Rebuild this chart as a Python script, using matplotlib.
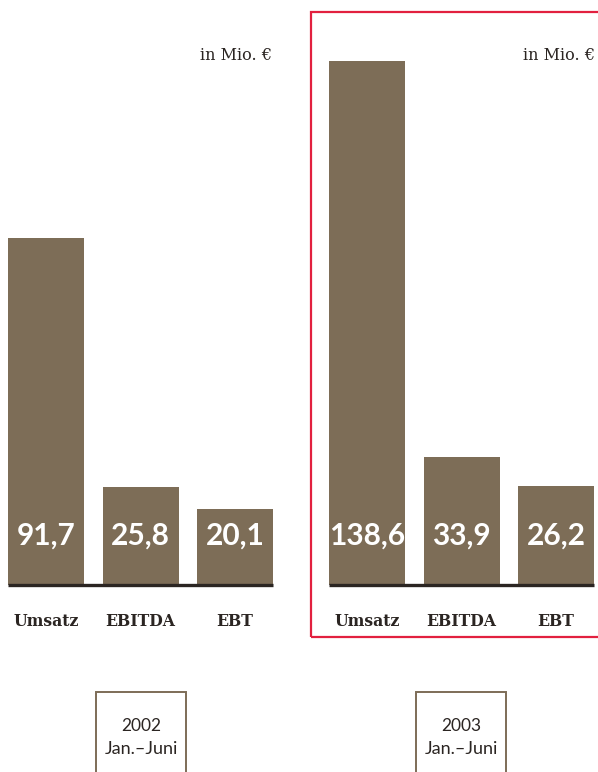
import matplotlib.pyplot as plt
from matplotlib.patches import Rectangle

# data
categories = ['Umsatz', 'EBITDA', 'EBT']
values_2002 = [91.7, 25.8, 20.1]
values_2003 = [138.6, 33.9, 26.2]
years = ['2002', '2003']
period = 'Jan.–Juni'
unit = 'in Mio. €'

bar_color = '#7d6d57'
base_color = '#2b2522'
red = '#e2203f'

W, H = 598, 772
fig = plt.figure(figsize=(W / 100, H / 100), dpi=100)


def px_axes(x0, x1, y_top, y_bottom):
    # axes rectangle given in pixel coords (origin top-left)
    return fig.add_axes([x0 / W, 1 - y_bottom / H, (x1 - x0) / W, (y_bottom - y_top) / H])


px_per_unit = 3.78   # bar height scale
step = 94.5          # px between bar centres
y_base, y_top = 585, 12
ymax = (y_base - y_top) / px_per_unit


def panel(x0, x1, first_center, values):
    ax = px_axes(x0, x1, y_top, y_base)
    ax.bar(range(len(values)), values, width=76 / step, color=bar_color, zorder=2)
    ax.set_xlim(-(first_center - x0) / step, (x1 - first_center) / step)
    ax.set_ylim(0, ymax)
    ax.plot([-38 / step, 2 + 38 / step], [0, 0], color=base_color, lw=2.4,
            solid_capstyle='butt', clip_on=False, zorder=3)
    for i, v in enumerate(values):
        ax.text(i, 13.0, f'{v:.1f}'.replace('.', ','), ha='center', va='center',
                color='white', fontsize=21.5, fontweight='bold', family='Lato', zorder=4)
    ax.set_xticks(range(len(categories)))
    ax.set_xticklabels(categories, family='DejaVu Serif', fontweight='bold',
                       fontsize=11.3, color='#2b2522')
    ax.tick_params(axis='x', length=0, pad=20)
    ax.set_yticks([])
    for s in ax.spines.values():
        s.set_visible(False)
    ax.patch.set_alpha(0)
    return ax


ax1 = panel(0, 299, 46, values_2002)
ax2 = panel(311, 598, 367, values_2003)

# unit labels
fig.text(272 / W, 1 - 55 / H, unit, ha='right', va='center', family='DejaVu Serif', fontsize=11.5, color='#2b2522')
fig.text(595 / W, 1 - 55 / H, unit, ha='right', va='center', family='DejaVu Serif', fontsize=11.5, color='#2b2522')

# red frame around 2003
fig.patches.append(Rectangle((311 / W, 1 - 637 / H), 300 / W, 625 / H, transform=fig.transFigure,
                             fill=False, edgecolor=red, lw=1.6))

# year boxes at the bottom
for xb, yr in zip([96, 416], years):
    fig.patches.append(Rectangle((xb / W, -0.02), 90 / W, 0.02 + (H - 692) / H, transform=fig.transFigure,
                                 fill=False, edgecolor=bar_color, lw=1.4))
    fig.text((xb + 45) / W, 1 - 726 / H, yr, ha='center', va='center', family='Lato', fontsize=12.5, color='#2b2522')
    fig.text((xb + 45) / W, 1 - 749 / H, period, ha='center', va='center', family='Lato', fontsize=13, color='#2b2522')

fig.savefig('out.png', dpi=100)
